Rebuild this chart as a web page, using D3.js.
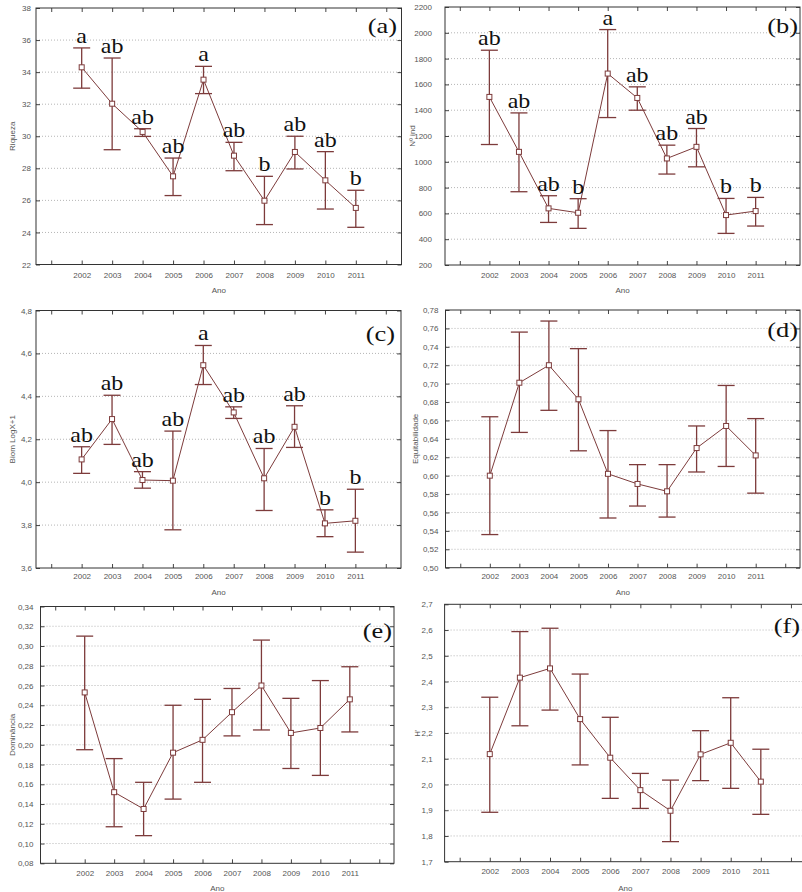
<!DOCTYPE html>
<html>
<head>
<meta charset="utf-8">
<script src="https://cdn.jsdelivr.net/npm/d3@7"></script>
<style>
  body { margin: 0; background: #fff; }
  .tick text { font-family: "Liberation Sans", Arial, sans-serif; font-size: 8px; fill: #555; }
</style>
</head>
<body>
<svg id="chart" width="802" height="892"></svg>
<script>
// categories (empty slots at both ends, like the original plot)
const years = ["2002", "2003", "2004", "2005", "2006", "2007", "2008", "2009", "2010", "2011"];
const xSlots = ["pre", ...years, "post"];

// (a) Riqueza
const riquezaMean = [34.3, 32.03, 30.27, 27.5, 33.53, 28.79, 25.98, 29.02, 27.25, 25.53];
const riquezaHigh = [35.51, 34.88, 30.47, 28.64, 34.36, 29.62, 27.5, 30.0, 29.04, 26.63];
const riquezaLow = [33.0, 29.16, 29.99, 26.3, 32.66, 27.85, 24.49, 27.96, 25.46, 24.32];
const riquezaLetters = ["a", "ab", "ab", "ab", "a", "ab", "b", "ab", "ab", "b"];
const riquezaTicks = [22, 24, 26, 28, 30, 32, 34, 36, 38];

// (b) Nº ind
const indMean = [1503, 1077, 639, 605, 1684, 1495, 1026, 1116, 587, 618];
const indHigh = [1865, 1379, 737, 714, 2025, 1581, 1129, 1258, 716, 724];
const indLow = [1134, 768, 530, 484, 1343, 1400, 905, 961, 445, 502];
const indLetters = ["ab", "ab", "ab", "b", "a", "ab", "ab", "ab", "b", "b"];
const indTicks = [200, 400, 600, 800, 1000, 1200, 1400, 1600, 1800, 2000, 2200];

// (c) Biom LogX+1
const biomMean = [4.106, 4.294, 4.010, 4.007, 4.545, 4.325, 4.018, 4.258, 3.808, 3.820];
const biomHigh = [4.165, 4.405, 4.049, 4.238, 4.637, 4.351, 4.157, 4.356, 3.871, 3.967];
const biomLow = [4.041, 4.176, 3.972, 3.778, 4.455, 4.297, 3.868, 4.162, 3.746, 3.674];
const biomLetters = ["ab", "ab", "ab", "ab", "a", "ab", "ab", "ab", "b", "b"];
const biomTicks = [3.6, 3.8, 4.0, 4.2, 4.4, 4.6, 4.8];

// (d) Equitabilidade
const equitMean = [0.600, 0.701, 0.720, 0.683, 0.602, 0.591, 0.583, 0.630, 0.654, 0.622];
const equitHigh = [0.664, 0.756, 0.768, 0.738, 0.649, 0.612, 0.612, 0.654, 0.698, 0.662];
const equitLow = [0.536, 0.647, 0.671, 0.627, 0.554, 0.567, 0.555, 0.604, 0.610, 0.581];
const equitTicks = [0.50, 0.52, 0.54, 0.56, 0.58, 0.60, 0.62, 0.64, 0.66, 0.68, 0.70, 0.72, 0.74, 0.76, 0.78];

// (e) Dominância
const domMean = [0.253, 0.152, 0.135, 0.192, 0.205, 0.233, 0.260, 0.212, 0.217, 0.246];
const domHigh = [0.310, 0.186, 0.162, 0.240, 0.246, 0.257, 0.306, 0.247, 0.265, 0.279];
const domLow = [0.195, 0.117, 0.108, 0.145, 0.162, 0.209, 0.215, 0.176, 0.169, 0.213];
const domTicks = [0.08, 0.10, 0.12, 0.14, 0.16, 0.18, 0.20, 0.22, 0.24, 0.26, 0.28, 0.30, 0.32, 0.34];

// (f) H'
const hMean = [2.118, 2.415, 2.451, 2.254, 2.104, 1.978, 1.898, 2.117, 2.162, 2.011];
const hHigh = [2.339, 2.594, 2.607, 2.429, 2.261, 2.043, 2.017, 2.209, 2.337, 2.137];
const hLow = [1.892, 2.228, 2.289, 2.076, 1.946, 1.907, 1.778, 2.015, 1.985, 1.884];
const hTicks = [1.7, 1.8, 1.9, 2.0, 2.1, 2.2, 2.3, 2.4, 2.5, 2.6, 2.7];

const svg = d3.select("#chart");
svg.append("rect").attr("width", 802).attr("height", 892).attr("fill", "#fff");

const markColor = "#7d3b3b";

function drawPanel(p) {
    const g = svg.append("g");
    const x = d3.scalePoint().domain(xSlots).range([p.left, p.right]).padding(0.5);
    const y = d3.scaleLinear().domain(d3.extent(p.ticks)).range([p.bottom, p.top]);
    const fmt = d3.format(p.fmt);

    // dotted grid
    g.selectAll(".grid")
        .data(p.ticks.slice(1, -1))
        .enter().append("line")
        .attr("x1", p.left).attr("x2", p.right)
        .attr("y1", d => y(d)).attr("y2", d => y(d))
        .attr("stroke", "#b5b5b5")
        .attr("stroke-width", 1)
        .attr("stroke-dasharray", "1,2");

    // axes with inward ticks
    const yAxis = g.append("g")
        .attr("transform", `translate(${p.left},0)`)
        .call(d3.axisLeft(y).tickValues(p.ticks).tickSize(-4).tickPadding(p.pad)
            .tickFormat(d => fmt(d).replace(".", ",")));
    const xAxis = g.append("g")
        .attr("transform", `translate(0,${p.bottom})`)
        .call(d3.axisBottom(x).tickSize(-4).tickPadding(p.xpad)
            .tickFormat(d => years.includes(d) ? d : ""));
    const topAxis = g.append("g")
        .attr("transform", `translate(0,${p.top})`)
        .call(d3.axisTop(x).tickSize(-4).tickFormat(""));
    const rightAxis = g.append("g")
        .attr("transform", `translate(${p.right},0)`)
        .call(d3.axisRight(y).tickValues(p.ticks).tickSize(-4).tickFormat(""));
    [yAxis, xAxis, topAxis, rightAxis].forEach(a => {
        a.select(".domain").remove();
        a.selectAll(".tick line").attr("stroke", "#444");
    });

    g.append("rect")
        .attr("x", p.left).attr("y", p.top)
        .attr("width", p.right - p.left).attr("height", p.bottom - p.top)
        .attr("fill", "none")
        .attr("stroke", "#333")
        .attr("stroke-width", 1);

    // axis titles
    g.append("text")
        .attr("transform", `translate(${p.ylabX},${(p.top + p.bottom) / 2}) rotate(-90)`)
        .attr("text-anchor", "middle")
        .attr("dy", "0.35em")
        .style("font-family", "Liberation Sans, Arial, sans-serif")
        .style("font-size", "8px")
        .attr("fill", "#555")
        .text(p.ylabel);
    g.append("text")
        .attr("x", (p.left + p.right) / 2)
        .attr("y", p.xlabY)
        .attr("text-anchor", "middle")
        .style("font-family", "Liberation Sans, Arial, sans-serif")
        .style("font-size", "8px")
        .attr("fill", "#555")
        .text("Ano");

    const rows = years.map((yr, i) => ({ yr, m: p.mean[i], hi: p.high[i], lo: p.low[i] }));

    // error bars
    const cap = 8.5;
    const eb = g.selectAll(".eb").data(rows).enter().append("g")
        .attr("stroke", markColor).attr("stroke-width", 1.3);
    eb.append("line")
        .attr("x1", d => x(d.yr)).attr("x2", d => x(d.yr))
        .attr("y1", d => y(d.hi)).attr("y2", d => y(d.lo));
    eb.append("line")
        .attr("x1", d => x(d.yr) - cap).attr("x2", d => x(d.yr) + cap)
        .attr("y1", d => y(d.hi)).attr("y2", d => y(d.hi));
    eb.append("line")
        .attr("x1", d => x(d.yr) - cap).attr("x2", d => x(d.yr) + cap)
        .attr("y1", d => y(d.lo)).attr("y2", d => y(d.lo));

    // mean line
    g.append("path")
        .datum(rows)
        .attr("fill", "none")
        .attr("stroke", markColor)
        .attr("stroke-width", 1)
        .attr("d", d3.line().x(d => x(d.yr)).y(d => y(d.m)));

    g.selectAll(".pt").data(rows).enter().append("rect")
        .attr("x", d => x(d.yr) - 2.5).attr("y", d => y(d.m) - 2.5)
        .attr("width", 5).attr("height", 5)
        .attr("fill", "#fff")
        .attr("stroke", markColor)
        .attr("stroke-width", 1);

    // significance letters
    if (p.letters) {
        g.selectAll(".let").data(rows).enter().append("text")
            .attr("transform", d => `translate(${x(d.yr)},${y(d.hi) - 5}) scale(1.2,1)`)
            .attr("text-anchor", "middle")
            .style("font-family", "Liberation Serif, Times New Roman, serif")
            .style("font-size", "20px")
            .attr("fill", "#111")
            .text((d, i) => p.letters[i]);
    }

    // panel tag
    g.append("text")
        .attr("transform", `translate(${p.tagX},${p.tagY}) scale(1.2,1)`)
        .attr("text-anchor", "end")
        .style("font-family", "Liberation Serif, Times New Roman, serif")
        .style("font-size", "22px")
        .attr("fill", "#111")
        .text(p.tag);
}

drawPanel({ left: 36, top: 8, right: 401.5, bottom: 264.5, ticks: riquezaTicks, fmt: "d", pad: 5,
    mean: riquezaMean, high: riquezaHigh, low: riquezaLow, letters: riquezaLetters,
    ylabel: "Riqueza", ylabX: 11.7, xlabY: 293, xpad: 7.5, tag: "(a)", tagX: 397, tagY: 33 });
drawPanel({ left: 445, top: 7, right: 800, bottom: 265, ticks: indTicks, fmt: "d", pad: 13,
    mean: indMean, high: indHigh, low: indLow, letters: indLetters,
    ylabel: "Nº ind", ylabX: 411.7, xlabY: 293, xpad: 7, tag: "(b)", tagX: 798, tagY: 33 });
drawPanel({ left: 36, top: 310.5, right: 401, bottom: 568, ticks: biomTicks, fmt: ".1f", pad: 4,
    mean: biomMean, high: biomHigh, low: biomLow, letters: biomLetters,
    ylabel: "Biom LogX+1", ylabX: 11.7, xlabY: 594.5, xpad: 5.7, tag: "(c)", tagX: 395, tagY: 341 });
drawPanel({ left: 445.5, top: 310, right: 800, bottom: 567.7, ticks: equitTicks, fmt: ".2f", pad: 7,
    mean: equitMean, high: equitHigh, low: equitLow,
    ylabel: "Equitabilidade", ylabX: 415, xlabY: 594.5, xpad: 6, tag: "(d)", tagX: 798, tagY: 337 });
drawPanel({ left: 40.5, top: 606.5, right: 394, bottom: 863.3, ticks: domTicks, fmt: ".2f", pad: 7,
    mean: domMean, high: domHigh, low: domLow,
    ylabel: "Dominância", ylabX: 11.7, xlabY: 890.5, xpad: 6.7, tag: "(e)", tagX: 392, tagY: 638 });
drawPanel({ left: 444.6, top: 604.3, right: 806, bottom: 861.7, ticks: hTicks, fmt: ".1f", pad: 12,
    mean: hMean, high: hHigh, low: hLow,
    ylabel: "H'", ylabX: 416.7, xlabY: 891, xpad: 6.3, tag: "(f)", tagX: 800, tagY: 633 });
</script>
</body>
</html>
